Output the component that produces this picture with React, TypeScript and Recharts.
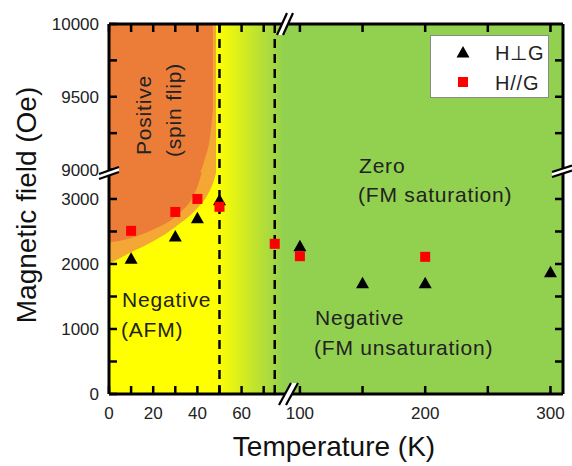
import React from 'react';
import {
  ComposedChart, Area, Scatter, XAxis, YAxis, CartesianGrid, ReferenceLine, Legend,
} from 'recharts';

const FONT = 'Arial, "Liberation Sans", Helvetica, sans-serif';

// H perpendicular to G (black triangles)
const perpTemps = [10, 30, 40, 50, 100, 150, 200, 300];
const perpFields = [2090, 2430, 2710, 2990, 2280, 1710, 1710, 1880];
// H parallel to G (red squares)
const parTemps = [10, 30, 40, 50, 75, 100, 200];
const parFields = [2510, 2800, 3000, 2880, 2310, 2120, 2110];

// spin-flip region: soft outer edge and inner core (lower field range)
const edgeTemps = [0, 10, 20, 30, 40, 45, 47.5, 48.5];
const edgeFields = [2000, 2180, 2350, 2570, 2860, 3090, 3290, 3415];
const coreTemps = [0, 10, 20, 30, 40, 42];
const coreFields = [2330, 2400, 2530, 2730, 3190, 3415];
// inner core in the upper field range
const coreTopTemps = [0, 41, 43.5, 45.5, 47];
const coreTopFields = [8983, 8983, 9080, 9200, 9400];

// axis segments
const lowField: [number, number] = [0, 3415];
const highField: [number, number] = [8983, 10000];
const lowTemp: [number, number] = [0, 81];
const highTemp: [number, number] = [90.5, 310];
const lowTempTicks = [0, 10, 20, 30, 40, 50, 60, 70];
const highTempTicks = [100, 150, 200, 250, 300];
const lowFieldTicks = [0, 500, 1000, 1500, 2000, 2500, 3000];
const highFieldTicks = [9000, 9250, 9500, 9750, 10000];
const phaseLines = [50, 75];

const ORANGE = '#EC7D38';
const ORANGE_SOFT = '#F4A735';
const YELLOW = '#FFFF00';
const GREEN = '#92D050';

const perpRows = perpTemps.map((t, i) => ({ t, h: perpFields[i] }));
const parRows = parTemps.map((t, i) => ({ t, h: parFields[i] }));
const bandRows = (ts: number[], lows: number[], top: number) => ts.map((t, i) => ({ t, band: [lows[i], top] }));
const fullRows = (t0: number, t1: number, d: [number, number]) => [{ t: t0, band: d }, { t: t1, band: d }];

const axisLine = { stroke: '#000', strokeWidth: 3 };
const tickLine = { stroke: '#000', strokeWidth: 2.5 };
const tickText = { fill: '#222', fontSize: 17, fontFamily: FONT };
const blank = () => '';
const every = (n: number) => (v: number) => (v % n === 0 ? String(v) : '');

const Tri = (p: any) => (
  <polygon points={`${p.cx},${p.cy - 6} ${p.cx - 6.5},${p.cy + 5.5} ${p.cx + 6.5},${p.cy + 5.5}`} fill="#000" />
);
const Sq = (p: any) => <rect x={p.cx - 5} y={p.cy - 5} width={10} height={10} fill="#f00" />;

const LegendBox = ({ payload }: any) => {
  const items = [...(payload || [])].sort((a: any, b: any) => (a.type === 'triangle' ? 0 : 1) - (b.type === 'triangle' ? 0 : 1));
  return (
    <svg width={119} height={63} style={{ display: 'block' }}>
      <rect x={0.5} y={0.5} width={118} height={62} fill="#fff" stroke="#8a8a8a" />
      {items.map((p: any, i: number) => {
        const cy = 17 + i * 30;
        return (
          <g key={p.value}>
            {p.type === 'triangle' ? <Tri cx={33} cy={cy} /> : <Sq cx={33} cy={cy} />}
            <text x={65} y={cy + 7.5} fontSize={20} fontFamily={FONT} fill="#222" letterSpacing={0.8}>{p.value}</text>
          </g>
        );
      })}
    </svg>
  );
};

const area = (key: string, data: any[], fill: string) => (
  <Area key={key} data={data} dataKey="band" type="monotone" stroke="none" fill={fill} fillOpacity={1}
    isAnimationActive={false} dot={false} activeDot={false} legendType="none" />
);

const Fade = ({ id }: { id: string }) => (
  <defs>
    <linearGradient id={id} x1="0" y1="0" x2="1" y2="0">
      <stop offset="0" stopColor={YELLOW} />
      <stop offset="0.95" stopColor={GREEN} />
      <stop offset="1" stopColor={GREEN} />
    </linearGradient>
  </defs>
);

const dashed = (x: number) => (
  <ReferenceLine key={x} x={x} stroke="#000" strokeWidth={2.5} strokeDasharray="9 6" />
);

const box = (left: number, top: number): React.CSSProperties => ({ position: 'absolute', left, top });

const Breaks = () => {
  const pair = (a: number[], b: number[], key: string) => (
    <g key={key}>
      <polygon points={`${a[0]},${a[1]} ${a[2]},${a[3]} ${b[2]},${b[3]} ${b[0]},${b[1]}`} fill="#fff" />
      <line x1={a[0]} y1={a[1]} x2={a[2]} y2={a[3]} stroke="#000" strokeWidth={2.2} />
      <line x1={b[0]} y1={b[1]} x2={b[2]} y2={b[3]} stroke="#000" strokeWidth={2.2} />
    </g>
  );
  return (
    <>
      {pair([99, 174, 119, 167], [99, 179, 119, 172], 'l')}
      {pair([552, 172, 572, 165.5], [552, 177, 572, 170.5], 'r')}
      {pair([279, 405, 291, 383], [286, 405, 298, 383], 'b')}
      {pair([277, 35, 287, 13], [283, 35, 293, 13], 't')}
    </>
  );
};

const note = { fontSize: 21, fontFamily: FONT, fill: '#222', letterSpacing: 0.8 } as const;

export default function App() {
  return (
    <div style={{ position: 'absolute', left: 0, top: 0, width: 572, height: 466, background: '#fff', overflow: 'hidden' }}>
      {/* upper-left: 0-81 K, 9000-10000 Oe */}
      <div style={box(0, 0)}>
        <ComposedChart width={300} height={184} margin={{ top: 4, right: 12, bottom: 12, left: 69 }}>
          <Fade id="fadeLU" />
          <CartesianGrid horizontal={false} vertical={false} fill={YELLOW} />
          {area('soft', fullRows(0, 48.5, highField), ORANGE_SOFT)}
          {area('core', bandRows(coreTopTemps, coreTopFields, 10000), ORANGE)}
          {area('fade', fullRows(48.5, 81, highField), 'url(#fadeLU)')}
          {phaseLines.map(dashed)}
          <XAxis orientation="top" height={20} type="number" dataKey="t" domain={lowTemp} allowDataOverflow
            ticks={lowTempTicks} interval={0} tickSize={-8} tickFormatter={blank} axisLine={axisLine} tickLine={tickLine} tick={tickText} />
          <YAxis width={40} type="number" domain={highField} allowDataOverflow ticks={highFieldTicks} interval={0}
            tickSize={-8} tickMargin={18} tickFormatter={every(500)} axisLine={axisLine} tickLine={tickLine} tick={tickText} />
        </ComposedChart>
      </div>

      {/* upper-right: 90-310 K, 9000-10000 Oe */}
      <div style={box(276, 0)}>
        <ComposedChart width={296} height={184} margin={{ top: 4, right: 0, bottom: 12, left: 12 }}>
          <CartesianGrid horizontal={false} vertical={false} fill={GREEN} />
          <Scatter name="H⊥G" data={[]} dataKey="h" legendType="triangle" fill="#000" isAnimationActive={false} />
          <Scatter name="H//G" data={[]} dataKey="h" legendType="square" fill="#f00" isAnimationActive={false} />
          <XAxis orientation="top" height={20} type="number" dataKey="t" domain={highTemp} allowDataOverflow
            ticks={highTempTicks} interval={0} tickSize={-8} tickFormatter={blank} axisLine={axisLine} tickLine={tickLine} tick={tickText} />
          <YAxis orientation="right" width={9} type="number" domain={highField} allowDataOverflow ticks={[9250, 9500, 9750]} interval={0}
            tickSize={-8} tickFormatter={blank} axisLine={axisLine} tickLine={tickLine} tick={tickText} />
          <Legend layout="vertical" align="center" verticalAlign="middle" content={<LegendBox />}
            wrapperStyle={{ left: 154, top: 35, width: 119, height: 63 }} />
        </ComposedChart>
      </div>

      {/* lower-left: 0-81 K, 0-3400 Oe */}
      <div style={box(0, 160)}>
        <ComposedChart width={300} height={306} margin={{ top: 12, right: 12, bottom: 32, left: 69 }}>
          <Fade id="fadeLL" />
          <CartesianGrid horizontal={false} vertical={false} fill={YELLOW} />
          {area('soft', bandRows(edgeTemps, edgeFields, lowField[1]), ORANGE_SOFT)}
          {area('core', bandRows(coreTemps, coreFields, lowField[1]), ORANGE)}
          {area('fade', fullRows(48.5, 81, lowField), 'url(#fadeLL)')}
          {phaseLines.map(dashed)}
          <Scatter name="H⊥G" data={perpRows.filter(r => r.t <= lowTemp[1])} dataKey="h" shape={Tri} legendType="triangle" isAnimationActive={false} />
          <Scatter name="H//G" data={parRows.filter(r => r.t <= lowTemp[1])} dataKey="h" shape={Sq} legendType="square" isAnimationActive={false} />
          <XAxis height={40} type="number" dataKey="t" domain={lowTemp} allowDataOverflow ticks={lowTempTicks} interval={0}
            tickSize={-8} tickMargin={21} tickFormatter={every(20)} axisLine={axisLine} tickLine={tickLine} tick={tickText} />
          <YAxis width={40} type="number" dataKey="h" domain={lowField} allowDataOverflow ticks={lowFieldTicks} interval={0}
            tickSize={-8} tickMargin={18} tickFormatter={every(1000)} axisLine={axisLine} tickLine={tickLine} tick={tickText} />
        </ComposedChart>
      </div>

      {/* lower-right: 90-310 K, 0-3400 Oe */}
      <div style={box(276, 160)}>
        <ComposedChart width={296} height={306} margin={{ top: 12, right: 0, bottom: 32, left: 12 }}>
          <CartesianGrid horizontal={false} vertical={false} fill={GREEN} />
          <Scatter name="H⊥G" data={perpRows.filter(r => r.t >= highTemp[0])} dataKey="h" shape={Tri} legendType="triangle" isAnimationActive={false} />
          <Scatter name="H//G" data={parRows.filter(r => r.t >= highTemp[0])} dataKey="h" shape={Sq} legendType="square" isAnimationActive={false} />
          <XAxis height={40} type="number" dataKey="t" domain={highTemp} allowDataOverflow ticks={highTempTicks} interval={0}
            tickSize={-8} tickMargin={21} tickFormatter={every(100)} axisLine={axisLine} tickLine={tickLine} tick={tickText} />
          <YAxis orientation="right" width={9} type="number" dataKey="h" domain={lowField} allowDataOverflow ticks={lowFieldTicks.slice(1)} interval={0}
            tickSize={-8} tickFormatter={blank} axisLine={axisLine} tickLine={tickLine} tick={tickText} />
        </ComposedChart>
      </div>

      <svg width={572} height={466} style={{ position: 'absolute', left: 0, top: 0, pointerEvents: 'none' }}>
        <Breaks />
        <text {...note} x={151} y={115} textAnchor="middle" transform="rotate(-90 151 115)">Positive</text>
        <text {...note} x={181} y={110} textAnchor="middle" transform="rotate(-90 181 110)">(spin flip)</text>
        <text {...note} x={122} y={307}>Negative</text>
        <text {...note} x={121} y={337}>(AFM)</text>
        <text {...note} x={359} y={173}>Zero</text>
        <text {...note} x={358} y={202}>(FM saturation)</text>
        <text {...note} x={315} y={325}>Negative</text>
        <text {...note} x={314} y={355}>(FM unsaturation)</text>
        <text x={334} y={456} textAnchor="middle" fontSize={28} fontFamily={FONT} fill="#111">Temperature (K)</text>
        <text x={36} y={205} textAnchor="middle" fontSize={28} fontFamily={FONT} fill="#111" transform="rotate(-90 36 205)">Magnetic field (Oe)</text>
      </svg>
    </div>
  );
}
